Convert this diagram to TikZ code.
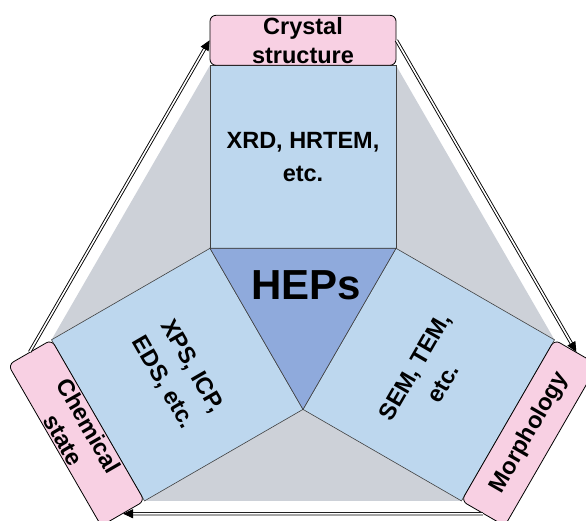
\documentclass[tikz,border=0pt]{standalone}
\usepackage{fontspec}
\usepackage{pdfrender}
\setmainfont{Liberation Sans}
\usetikzlibrary{calc,arrows.meta}
\definecolor{boxblue}{HTML}{BDD7EE}
\definecolor{coreblue}{HTML}{8FAADC}
\definecolor{labpink}{HTML}{F8D0E3}
\definecolor{gapgray}{HTML}{CDD1D8}
\definecolor{edgegray}{HTML}{404040}
\begin{document}
\begin{tikzpicture}[x=1pt,y=1pt,
 armbox/.style={draw=edgegray, line width=0.6pt, fill=boxblue, minimum width=186pt, minimum height=183pt, inner sep=0pt, align=center, font=\fontsize{23.5}{33}\selectfont\bfseries},
 labbox/.style={draw=black, line width=0.8pt, fill=labpink, rounded corners=6pt, minimum width=186pt, minimum height=50pt, inner sep=0pt, align=center, font=\fontsize{23.5}{29}\selectfont\bfseries},
 flow/.style={draw=black, double=white, line width=0.9pt, double distance=1.6pt, -{Triangle[length=10pt,width=9pt]}},
 hepsfont/.style={inner sep=0pt, font=\fontsize{42}{42}\selectfont\bfseries}
]
\useasboundingbox (0,0) rectangle (586,-521);
\begin{scope}
\clip (0,0) rectangle (586,-521);
\coordinate (C) at (303,-302);
\coordinate (vtl) at ($(C)+(150:107.4)$);
\coordinate (vtr) at ($(C)+(30:107.4)$);
\coordinate (vb) at ($(C)+(270:107.4)$);
% gaps
\fill[gapgray] (vtl) -- ($(vtl)+(90:183)$) -- ($(vtl)+(210:183)$) -- cycle;
\fill[gapgray] (vtr) -- ($(vtr)+(90:183)$) -- ($(vtr)+(330:183)$) -- cycle;
\fill[gapgray] (vb) -- ($(vb)+(210:183)$) -- ($(vb)+(330:183)$) -- cycle;
% arms
\node[armbox] (xrd) at ($(C)+(90:145.2)$) {XRD, HRTEM,\\etc.};
\node[armbox, rotate=-60] (xps) at ($(C)+(210:145.2)$) {XPS, ICP,\\EDS, etc.};
\node[armbox, rotate=60] (sem) at ($(C)+(330:145.2)$) {SEM, TEM,\\etc.};
% core
\filldraw[fill=coreblue, draw=edgegray, line width=0.6pt] (vtl) -- (vtr) -- (vb) -- cycle;
% labels
\node[labbox] (cryst) at ($(C)+(90:261.7)$) {Crystal\\structure};
\node[labbox, rotate=-60] (chem) at ($(C)+(210:261.7)$) {Chemical\\state};
\node[labbox, rotate=60] (morph) at ($(C)+(330:261.7)$) {Morphology};
% arrows
\draw[flow] (chem.west) -- (cryst.west);
\draw[flow] (cryst.east) -- (morph.east);
\draw[flow] (morph.west) -- (chem.east);
% HEPs
\node[hepsfont] (heps) at (306,-285) {\textpdfrender{TextRenderingMode=FillStroke, LineWidth=2pt, StrokeColor=white, FillColor=black}{HEPs}};
\end{scope}
\end{tikzpicture}
\end{document}
